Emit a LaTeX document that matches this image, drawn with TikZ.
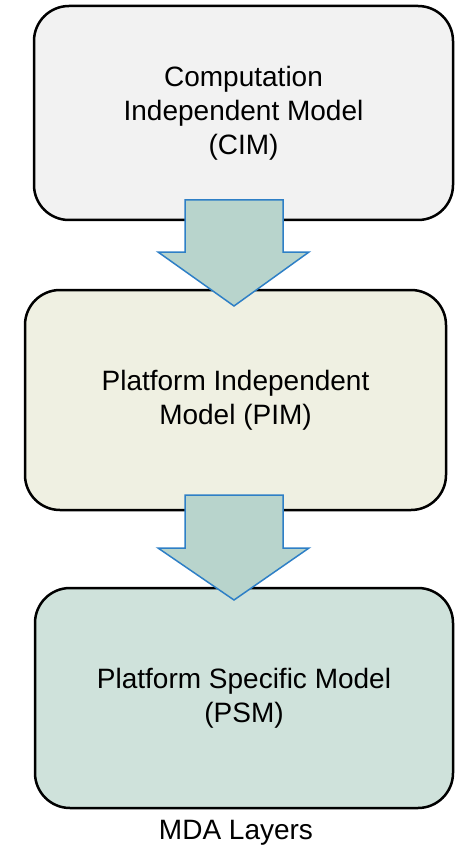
\documentclass[tikz,border=0pt]{standalone}
\usepackage{fontspec}
\setmainfont{Liberation Sans}
\usepackage{tikz}
\usetikzlibrary{positioning, calc}
\definecolor{cimgray}{RGB}{242, 242, 242}
\definecolor{pimcream}{RGB}{239, 240, 226}
\definecolor{psmmint}{RGB}{207, 226, 219}
\definecolor{flowfill}{RGB}{184, 212, 204}
\definecolor{flowblue}{RGB}{46, 127, 198}

\begin{document}
\begin{tikzpicture}[
    x=1pt, y=-1pt,
    every node/.style={font=\fontsize{28}{34}\selectfont, text=black},
    layer/.style={rectangle, draw=black, line width=2.5pt, rounded corners=35pt,
                  align=center, minimum height=216pt},
    flow/.style={fill=flowfill, draw=flowblue, line width=1.5pt, line join=miter}
]
    \useasboundingbox (0,0) rectangle (462,850);
    \node[layer, fill=cimgray, minimum width=419pt, minimum height=214pt] (cim) at (243.5,113)
        {Computation\\Independent Model\\(CIM)};
    \node[layer, fill=pimcream, minimum width=421pt, minimum height=220pt] (pim) at (235.5,400)
        {Platform Independent\\Model (PIM)};
    \node[layer, fill=psmmint, minimum width=418pt, minimum height=220pt] (psm) at (244,698)
        {Platform Specific Model\\(PSM)};
    \node (caption) at (236,833) {MDA Layers};
    % block arrows between the layers
    \coordinate (top1) at (234,200);
    \coordinate (tip1) at (234,306);
    \coordinate (top2) at (234,495);
    \coordinate (tip2) at (234,600);
    \draw[flow] ($(top1)+(-49,0)$) -- ($(top1)+(49,0)$) -- ($(top1)+(49,52)$)
        -- ($(top1)+(75,52)$) -- (tip1) -- ($(top1)+(-76,52)$)
        -- ($(top1)+(-49,52)$) -- cycle;
    \draw[flow] ($(top2)+(-49,0)$) -- ($(top2)+(49,0)$) -- ($(top2)+(49,53)$)
        -- ($(top2)+(75,53)$) -- (tip2) -- ($(top2)+(-76,53)$)
        -- ($(top2)+(-49,53)$) -- cycle;
\end{tikzpicture}
\end{document}
